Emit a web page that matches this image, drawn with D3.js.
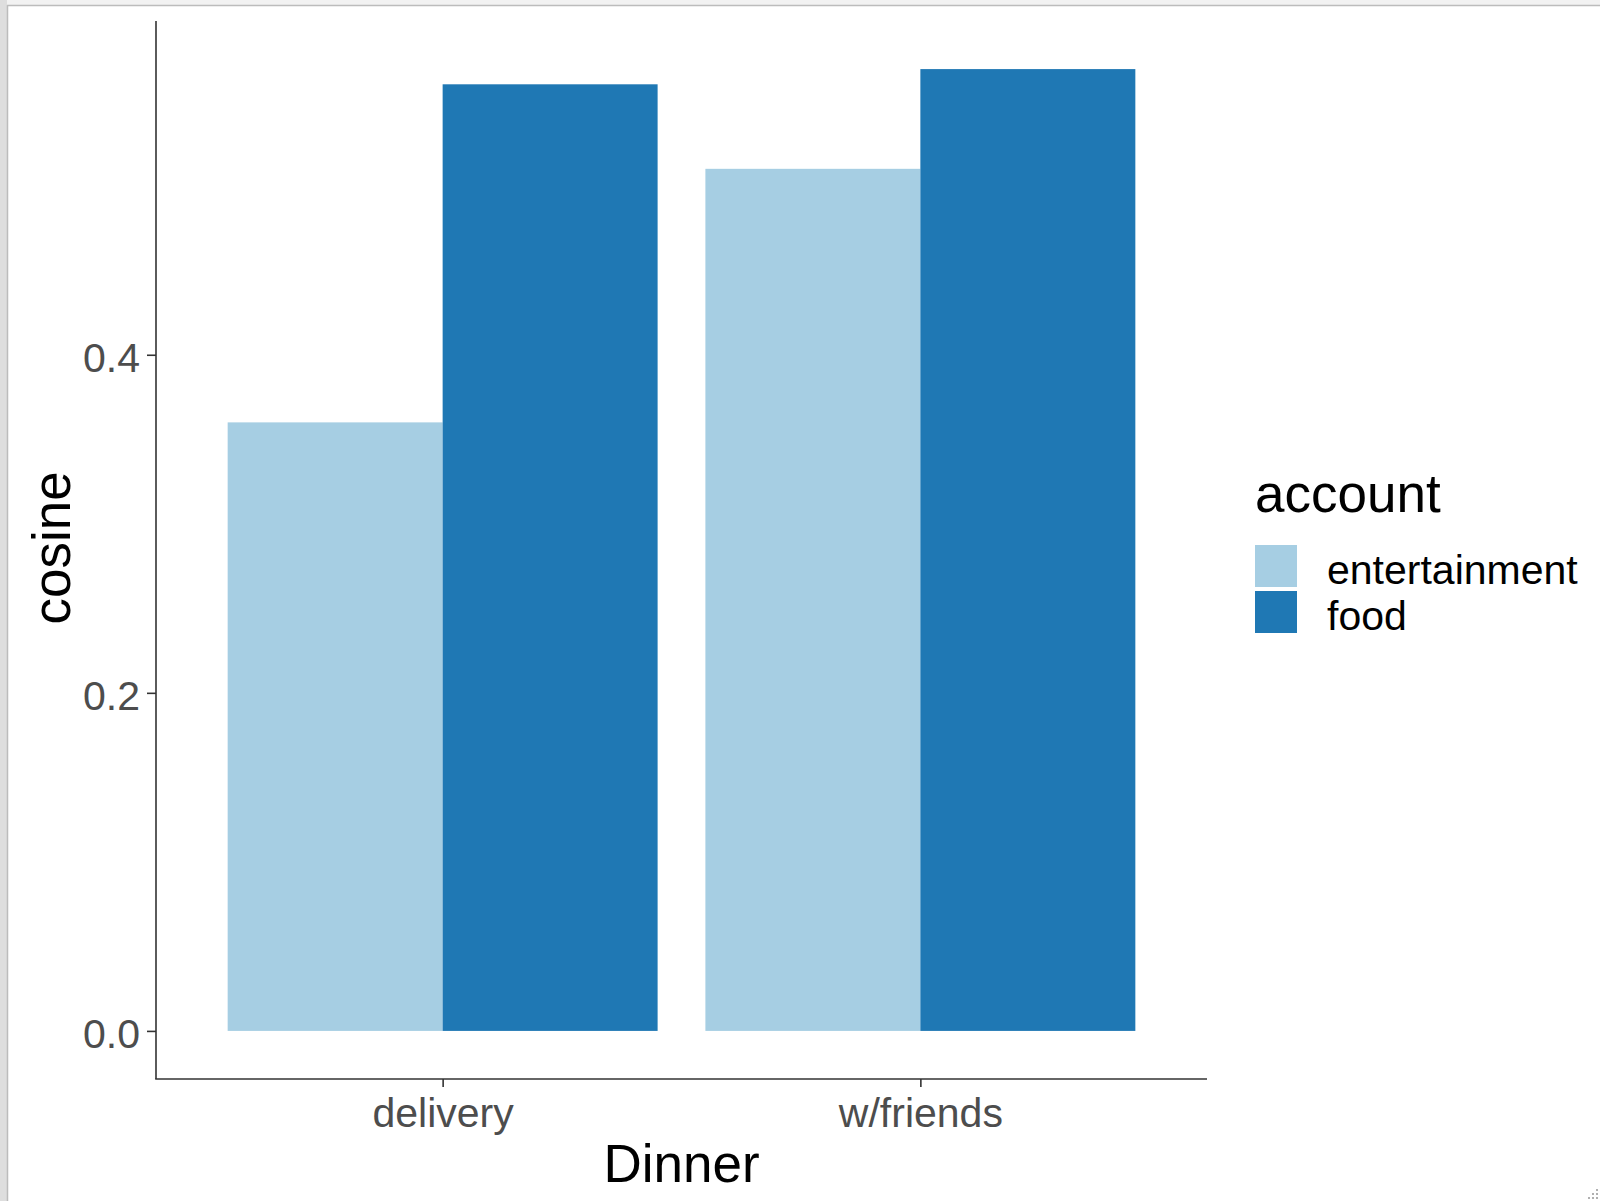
<!DOCTYPE html>
<html>
<head>
<meta charset="utf-8">
<script src="https://cdn.jsdelivr.net/npm/d3@7"></script>
<style>
  html, body { margin: 0; padding: 0; background: #ffffff; }
  svg { display: block; font-family: "Liberation Sans", Arial, sans-serif; }
</style>
</head>
<body>
<script>
// Categories, series and values
const categories = ["delivery", "w/friends"];
const seriesNames = ["entertainment", "food"];
const entertainmentValues = [0.36, 0.51];
const foodValues = [0.56, 0.569];
const yTickValues = [0.0, 0.2, 0.4];
const yTickLabels = ["0.0", "0.2", "0.4"];
const seriesColors = ["#a6cee3", "#1f78b4"];

const rows = categories.map((c, i) => ({
  category: c,
  values: [
    { key: seriesNames[0], value: entertainmentValues[i] },
    { key: seriesNames[1], value: foodValues[i] }
  ]
}));

const W = 1600, H = 1201;
const svg = d3.select("body").append("svg").attr("width", W).attr("height", H);

// window chrome around the plot
svg.append("rect").attr("x", 0).attr("y", 0).attr("width", W).attr("height", H).attr("fill", "#ffffff");
svg.append("rect").attr("x", 0).attr("y", 0).attr("width", W).attr("height", 5).attr("fill", "#f2f2f2");
svg.append("rect").attr("x", 0).attr("y", 0).attr("width", 7).attr("height", H).attr("fill", "#dedede");
svg.append("line").attr("x1", 7.5).attr("x2", 7.5).attr("y1", 5).attr("y2", H).attr("stroke", "#bcbcbc").attr("stroke-width", 1.5);
svg.append("line").attr("x1", 7).attr("x2", W).attr("y1", 5.5).attr("y2", 5.5).attr("stroke", "#bcbcbc").attr("stroke-width", 1.5);

// panel geometry
const panel = { left: 156, right: 1207, top: 21, bottom: 1079 };

// categories sit at 1..n on a continuous axis expanded by 0.6 on each side
const xCont = d3.scaleLinear().domain([0.4, categories.length + 0.6]).range([panel.left, panel.right]);
// each group is 0.9 wide, leaving a 0.1 gap between groups
const x = d3.scaleBand().domain(categories)
  .range([xCont(0.5), xCont(categories.length + 0.5)])
  .paddingInner(0.1).paddingOuter(0.05);
const xInner = d3.scaleBand().domain(seriesNames).range([0, x.bandwidth()]);

const yMax = d3.max(foodValues.concat(entertainmentValues));
const yPad = yMax * 0.05;
const y = d3.scaleLinear().domain([-yPad, yMax + yPad]).range([panel.bottom, panel.top]);
const color = d3.scaleOrdinal().domain(seriesNames).range(seriesColors);

// bars
const groups = svg.append("g").selectAll("g").data(rows).join("g")
  .attr("transform", d => `translate(${x(d.category)},0)`);
groups.selectAll("rect").data(d => d.values).join("rect")
  .attr("x", d => xInner(d.key))
  .attr("width", xInner.bandwidth())
  .attr("y", d => y(d.value))
  .attr("height", d => y(0) - y(d.value))
  .attr("fill", d => color(d.key));

// y axis
const yAxis = d3.axisLeft(y).tickValues(yTickValues)
  .tickFormat((d, i) => yTickLabels[i]).tickSize(9).tickPadding(7);
const gy = svg.append("g").attr("transform", `translate(${panel.left},0)`).call(yAxis);
gy.select(".domain").remove();
gy.append("line").attr("x1", 0).attr("x2", 0).attr("y1", panel.top).attr("y2", panel.bottom)
  .attr("stroke", "#333333").attr("stroke-width", 1.6);
gy.selectAll(".tick line").attr("stroke", "#333333").attr("stroke-width", 1.6);
gy.selectAll(".tick text").attr("fill", "#4d4d4d").attr("font-size", 41)
  .attr("font-family", "Liberation Sans, Arial, sans-serif").attr("dy", "0.41em");

// x axis
const xAxis = d3.axisBottom(d3.scalePoint().domain(categories)
  .range([xCont(1), xCont(categories.length)])).tickSize(8).tickPadding(0);
const gx = svg.append("g").attr("transform", `translate(0,${panel.bottom})`).call(xAxis);
gx.select(".domain").remove();
gx.append("line").attr("x1", panel.left - 0.8).attr("x2", panel.right).attr("y1", 0).attr("y2", 0)
  .attr("stroke", "#333333").attr("stroke-width", 1.6);
gx.selectAll(".tick line").attr("stroke", "#333333").attr("stroke-width", 1.6);
gx.selectAll(".tick text").attr("fill", "#4d4d4d").attr("font-size", 41)
  .attr("font-family", "Liberation Sans, Arial, sans-serif")
  .attr("dy", null).attr("y", 47.7);

// axis titles
svg.append("text").attr("x", (panel.left + panel.right) / 2).attr("y", 1181.5)
  .attr("text-anchor", "middle").attr("font-size", 53).attr("fill", "#000000").text("Dinner");
svg.append("text").attr("transform", `translate(70,${(panel.top + panel.bottom) / 2 - 2}) rotate(-90)`)
  .attr("text-anchor", "middle").attr("font-size", 53).attr("fill", "#000000").text("cosine");

// legend
const legend = svg.append("g").attr("transform", "translate(1255,0)");
legend.append("text").attr("x", 0).attr("y", 511.5).attr("font-size", 53).attr("fill", "#000000").text("account");
const keyY = [545, 591];
const keyBaselines = [584, 630];
seriesNames.forEach((s, i) => {
  legend.append("rect").attr("x", 0).attr("y", keyY[i]).attr("width", 42).attr("height", 42)
    .attr("fill", color(s));
  legend.append("text").attr("x", 72).attr("y", keyBaselines[i]).attr("font-size", 41)
    .attr("fill", "#000000").text(s);
});

// resize grip in the bottom-right corner
const grip = svg.append("g").attr("fill", "#b0b0b0");
[[1596, 1197], [1592, 1197], [1588, 1197], [1596, 1193], [1592, 1193], [1596, 1189]].forEach(p => {
  grip.append("rect").attr("x", p[0]).attr("y", p[1]).attr("width", 2).attr("height", 2);
});
</script>
</body>
</html>
